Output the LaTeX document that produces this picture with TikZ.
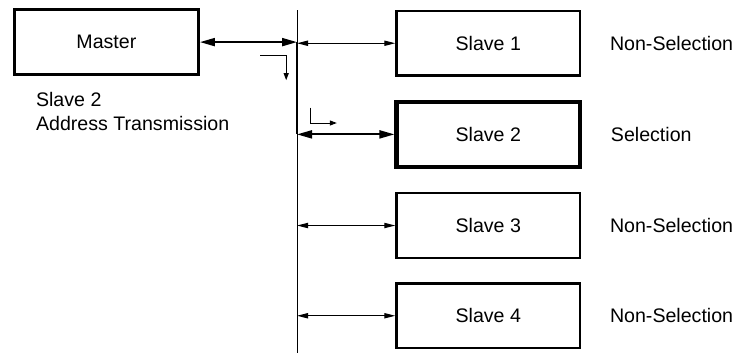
\documentclass[tikz,border=0pt]{standalone}
\usepackage{fontspec}
\setmainfont{Liberation Sans}
\usetikzlibrary{arrows.meta,positioning,calc}

\begin{document}
\begin{tikzpicture}[>=Stealth, node distance=0.40cm, font=\fontsize{9.8}{12}\selectfont,
    box/.style={draw, line width=1.3pt, minimum width=3.22cm, minimum height=1.14cm},
    state/.style={inner sep=0pt, anchor=west},
    thinarrow/.style={{Triangle[length=5.5pt,width=2.6pt]}-{Triangle[length=5.5pt,width=2.6pt]}, line width=0.6pt},
    boldarrow/.style={{Triangle[length=7.5pt,width=4pt]}-{Triangle[length=7.5pt,width=4pt]}, line width=1pt},
    hint/.style={-{Triangle[length=3.5pt,width=2.5pt]}, line width=0.5pt}]
    \useasboundingbox (0,0) rectangle (12.951,-6.221);

    % Nodes
    \node[box, line width=1.6pt, minimum width=3.23cm] (master) at (1.87,-0.74) {Master};
    \node[inner sep=0pt, align=left, below right=0.28cm and 0.40cm of master.south west] (addr) {Slave 2\\Address Transmission};

    \node[box] (s1) at (8.58,-0.76) {Slave 1};
    \node[box, line width=2.2pt, below=of s1] (s2) {Slave 2};
    \node[box, below=of s2] (s3) {Slave 3};
    \node[box, below=of s3] (s4) {Slave 4};

    \node[state, right=0.50cm of s1] (st1) {Non-Selection};
    \node[state, right=0.50cm of s2] (st2) {Selection};
    \node[state, right=0.50cm of s3] (st3) {Non-Selection};
    \node[state, right=0.50cm of s4] (st4) {Non-Selection};

    % Bus
    \coordinate (btop) at (5.219,-0.176);
    \coordinate (bbot) at (5.219,-6.203);
    \coordinate (mbus) at (master.east -| btop);
    \coordinate (sbus) at (s2.west -| btop);
    \draw[line width=0.5pt] (btop) -- (bbot);
    \draw[line width=1.4pt] (mbus) -- (sbus);

    % Arrows
    \draw[boldarrow] (master) -- (mbus);
    \draw[thinarrow] (s1.west -| btop) -- (s1);
    \draw[boldarrow] (sbus) -- (s2);
    \draw[thinarrow] (s3.west -| btop) -- (s3);
    \draw[thinarrow] (s4.west -| btop) -- (s4);

    % Direction hints
    \draw[hint] ($(mbus)+(-0.65,-0.24)$) -| ($(mbus)+(-0.19,-0.67)$);
    \draw[hint] ($(sbus)+(0.23,0.47)$) |- ($(sbus)+(0.70,0.20)$);
\end{tikzpicture}
\end{document}
